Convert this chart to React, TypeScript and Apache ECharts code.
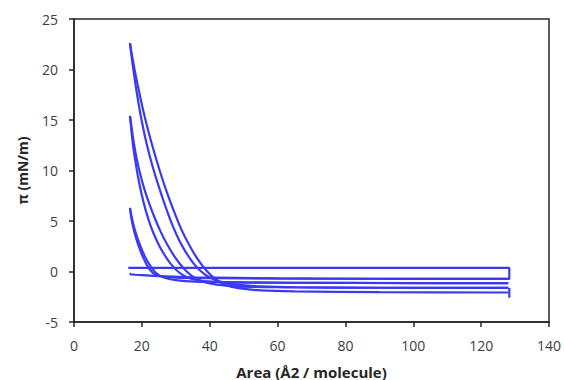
import React, { useEffect, useRef } from "react";
import * as echarts from "echarts";

type Pt = [number, number];

// Area (Å2 / molecule), π (mN/m)
const initialRun: Pt[] = [
  [16.4, -0.2], [16.8, -0.28], [18, -0.32], [20, -0.36], [25, -0.46], [35, -0.58], [60, -0.68], [90, -0.72], [128, -0.74],
  [128.3, -0.74], [128.3, 0.35], [100, 0.36], [60, 0.35], [30, 0.36], [16.0, 0.36],
];

const compression1: Pt[] = [
  [128, -1.16], [80, -1.13], [50, -1.08], [36, -1.0], [30, -0.85], [26.5, -0.6], [24.2, -0.15],
  [22.5, 0.55], [21.0, 1.4], [19.7, 2.4], [18.6, 3.4], [17.7, 4.4], [17.0, 5.4], [16.5, 6.3],
];
const expansion1: Pt[] = [
  [16.5, 6.3], [16.9, 5.3], [17.5, 4.3], [18.3, 3.3], [19.3, 2.3], [20.5, 1.3], [21.8, 0.45],
  [23.3, -0.15], [25.5, -0.45], [30, -0.6], [40, -0.66], [70, -0.71], [128, -0.74],
];

const compression2: Pt[] = [
  [128, -1.63], [90, -1.61], [60, -1.56], [48, -1.48], [42, -1.3], [37.6, -0.95], [34.6, -0.4],
  [32.1, 0.4], [29.8, 1.4], [27.6, 2.6], [25.6, 3.9], [23.8, 5.3], [22.1, 6.8], [20.6, 8.3],
  [19.4, 9.8], [18.4, 11.3], [17.6, 12.8], [17.0, 14.2], [16.5, 15.4],
];
const expansion2: Pt[] = [
  [16.5, 15.4], [16.9, 14.0], [17.4, 12.5], [18.1, 10.9], [18.9, 9.3], [19.9, 7.7], [21.1, 6.1],
  [22.5, 4.6], [24.2, 3.2], [26.2, 1.9], [28.4, 0.8], [30.8, -0.05], [33.5, -0.6], [37, -0.9],
  [42, -1.03], [55, -1.1], [90, -1.14], [128, -1.16],
];

const compression3: Pt[] = [
  [128, -2.08], [90, -2.04], [65, -1.97], [55, -1.87], [48.5, -1.65], [44.5, -1.3], [41.5, -0.7],
  [39.0, 0.1], [36.5, 1.2], [34.0, 2.6], [31.6, 4.2], [29.3, 6.1], [27.0, 8.2], [24.8, 10.5],
  [22.8, 12.8], [21.0, 15.1], [19.5, 17.3], [18.2, 19.4], [17.2, 21.2], [16.5, 22.6],
];
const expansion3: Pt[] = [
  [16.5, 22.6], [17.0, 21.2], [17.7, 19.5], [18.7, 17.3], [19.8, 15.2], [21.3, 12.8], [23.0, 10.6],
  [25.0, 8.4], [27.0, 6.4], [29.0, 4.6], [31.0, 3.1], [33.0, 1.9], [35.0, 0.9], [37.0, 0.15],
  [39.5, -0.5], [43, -1.0], [48, -1.3], [55, -1.47], [65, -1.56], [90, -1.61], [128, -1.63],
];

const endDrop: Pt[] = [[128.3, -1.63], [128.3, -2.6]];

const allRuns: Pt[][] = [
  initialRun, compression1, expansion1, compression2, expansion2, compression3, expansion3, endDrop,
];

const LINE_COLOR = "#3a3af2";
const AXIS_COLOR = "#262626";
const FONT = "'Open Sans', 'Noto Sans', sans-serif";

export default function App() {
  const ref = useRef<HTMLDivElement>(null);
  useEffect(() => {
    if (!ref.current) return;
    const chart = echarts.init(ref.current, undefined, { renderer: "svg" });
    chart.setOption({
      animation: false,
      backgroundColor: "#ffffff",
      grid: {
        left: 74, right: 15, top: 19, bottom: 58,
        containLabel: false,
        outerBoundsMode: "none",
        show: true, borderColor: AXIS_COLOR, borderWidth: 1.5, backgroundColor: "transparent",
      },
      xAxis: {
        type: "value", min: 0, max: 140, interval: 20,
        axisLine: { show: true, onZero: false, lineStyle: { color: AXIS_COLOR, width: 1.5 } },
        axisTick: { show: true, length: 5, lineStyle: { color: AXIS_COLOR, width: 1.5 } },
        splitLine: { show: false },
        axisLabel: { fontSize: 14, color: "#404040", margin: 16, fontFamily: FONT },
        name: "Area (Å2 / molecule)", nameLocation: "middle", nameGap: 42,
        nameTextStyle: { fontSize: 15, fontWeight: "bold", color: AXIS_COLOR, fontFamily: FONT },
      },
      yAxis: {
        type: "value", min: -5, max: 25, interval: 5,
        axisLine: { show: true, onZero: false, lineStyle: { color: AXIS_COLOR, width: 1.5 } },
        axisTick: { show: true, length: 5, lineStyle: { color: AXIS_COLOR, width: 1.5 } },
        splitLine: { show: false },
        axisLabel: { fontSize: 14, color: "#404040", margin: 16, fontFamily: FONT },
        name: "π (mN/m)", nameLocation: "middle", nameGap: 45,
        nameTextStyle: { fontSize: 14, fontWeight: "bold", color: AXIS_COLOR, fontFamily: FONT },
      },
      series: allRuns.map((run, i) => ({
        type: "line",
        name: "run" + i,
        data: run,
        showSymbol: false,
        symbol: "none",
        smooth: i === 0 || i === allRuns.length - 1 ? false : 0.3,
        lineStyle: { color: LINE_COLOR, width: 2.2 },
        itemStyle: { color: LINE_COLOR },
        z: 3,
      })),
    });
    return () => chart.dispose();
  }, []);
  return (
    <div
      ref={ref}
      style={{ position: "fixed", left: 0, top: 0, width: 564, height: 380, background: "#fff" }}
    />
  );
}
